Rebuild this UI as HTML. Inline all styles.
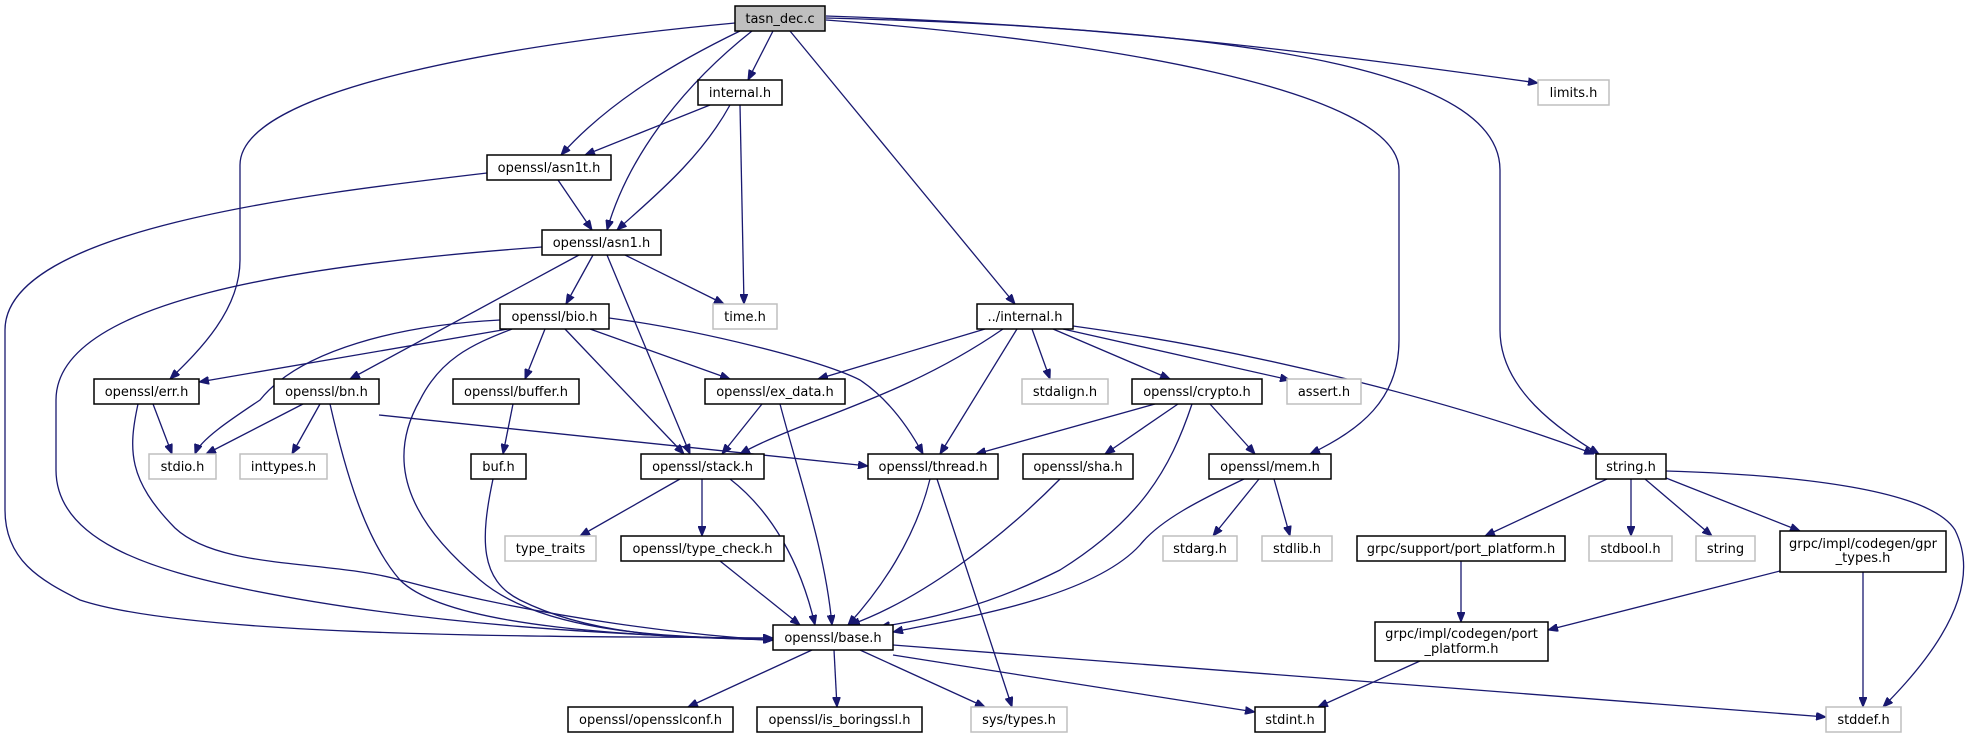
<!DOCTYPE html>
<html><head><meta charset="utf-8"><style>
html,body{margin:0;padding:0;background:#fff;}
svg{display:block;}
text{font-family:"DejaVu Sans","Liberation Sans",sans-serif;font-size:13px;fill:#000;}
.n{fill:#fff;stroke:#000;stroke-width:1.5;}
.g{fill:#fff;stroke:#bfbfbf;stroke-width:1.5;}
.e{fill:none;stroke:#191970;stroke-width:1.3;marker-end:url(#a);}
</style></head><body>
<svg width="1978" height="739" viewBox="0 0 1978 739" xmlns="http://www.w3.org/2000/svg">
<defs><marker id="a" viewBox="0 0 10 8" refX="10" refY="4" markerWidth="10" markerHeight="8" markerUnits="userSpaceOnUse" orient="auto"><path d="M0,0 L10,4 L0,8 z" fill="#191970" stroke="#191970"/></marker></defs>
<g>
<!-- tasn edges -->
<path class="e" d="M735,23 C500,45 240,90 240,165 L240,260 C240,310 200,350 170,379"/>
<path class="e" d="M740,31 C680,60 610,100 561,155"/>
<path class="e" d="M752,31 C690,80 630,150 607,230"/>
<path class="e" d="M773,31 L748,80"/>
<path class="e" d="M790,31 L1015,304"/>
<path class="e" d="M826,20 C1100,40 1399,90 1399,170 L1399,340 C1399,400 1360,430 1310,454"/>
<path class="e" d="M826,18 C1300,30 1500,80 1500,170 L1500,330 C1500,390 1560,430 1599,454"/>
<path class="e" d="M826,16 C1100,25 1300,50 1538,83"/>
<!-- internal.h -->
<path class="e" d="M710,105 L585,155"/>
<path class="e" d="M730,105 C700,160 650,200 617,230"/>
<path class="e" d="M740,105 L744,304"/>
<!-- asn1t -->
<path class="e" d="M558,180 L592,230"/>
<path class="e" d="M487,173 C300,195 5,230 5,330 L5,510 C5,560 40,580 80,600 C200,640 600,636 773,638"/>
<!-- asn1 -->
<path class="e" d="M542,247 C300,265 56,300 56,400 L56,470 C56,540 150,570 250,590 C450,630 650,635 773,640"/>
<path class="e" d="M593,255 L566,304"/>
<path class="e" d="M579,255 L350,379"/>
<path class="e" d="M607,255 L690,454"/>
<path class="e" d="M625,255 L724,304"/>
<!-- bio -->
<path class="e" d="M508,329 L199,382"/>
<path class="e" d="M500,320 C400,325 300,350 260,400 C230,420 200,440 195,454"/>
<path class="e" d="M512,329 C470,345 440,360 420,400 C380,470 420,530 480,580 C550,640 700,636 773,640"/>
<path class="e" d="M545,329 L525,379"/>
<path class="e" d="M565,329 L684,454"/>
<path class="e" d="M590,329 L730,379"/>
<path class="e" d="M609,318 C700,330 820,360 860,380 C890,400 910,430 923,454"/>
<!-- err -->
<path class="e" d="M153,404 L172,454"/>
<path class="e" d="M138,404 C128,450 128,480 175,528 C220,570 330,560 400,580 C550,620 700,636 773,640"/>
<!-- bn -->
<path class="e" d="M303,404 L206,454"/>
<path class="e" d="M320,404 L292,454"/>
<path class="e" d="M330,404 C345,470 365,540 400,580 C450,630 650,636 773,640"/>
<path class="e" d="M379,415 L868,466"/>
<!-- buffer, buf -->
<path class="e" d="M513,404 L503,454"/>
<path class="e" d="M493,479 C480,540 480,580 520,600 C600,640 700,637 773,640"/>
<!-- ex_data -->
<path class="e" d="M762,404 L722,454"/>
<path class="e" d="M780,404 C800,480 825,550 832,625"/>
<!-- ../internal -->
<path class="e" d="M985,329 L818,379"/>
<path class="e" d="M1003,329 C900,400 800,420 740,454"/>
<path class="e" d="M1017,329 L940,454"/>
<path class="e" d="M1032,329 L1050,379"/>
<path class="e" d="M1053,329 L1170,379"/>
<path class="e" d="M1063,329 L1290,380"/>
<path class="e" d="M1073,326 C1250,350 1450,400 1594,454"/>
<!-- crypto -->
<path class="e" d="M1155,404 L976,454"/>
<path class="e" d="M1178,404 L1105,454"/>
<path class="e" d="M1210,404 L1255,454"/>
<path class="e" d="M1192,404 C1170,470 1140,520 1060,570 C980,610 920,620 880,627"/>
<!-- thread -->
<path class="e" d="M930,479 C915,540 880,590 848,625"/>
<path class="e" d="M937,479 L1012,707"/>
<!-- sha -->
<path class="e" d="M1060,479 C1000,540 920,600 850,625"/>
<!-- mem -->
<path class="e" d="M1244,479 C1200,500 1160,520 1140,545 C1090,600 950,620 893,632"/>
<path class="e" d="M1259,479 L1213,536"/>
<path class="e" d="M1274,479 L1290,536"/>
<!-- stack -->
<path class="e" d="M680,479 L580,536"/>
<path class="e" d="M702,479 L702,536"/>
<path class="e" d="M730,479 C770,510 800,560 815,625"/>
<path class="e" d="M720,561 L800,625"/>
<!-- string.h -->
<path class="e" d="M1607,479 L1485,536"/>
<path class="e" d="M1631,479 L1631,536"/>
<path class="e" d="M1645,479 L1712,536"/>
<path class="e" d="M1666,478 L1800,531"/>
<path class="e" d="M1666,471 C1800,475 1930,490 1955,530 C1985,590 1930,660 1883,707"/>
<!-- grpc -->
<path class="e" d="M1461,561 L1461,622"/>
<path class="e" d="M1780,571 L1548,630"/>
<path class="e" d="M1863,572 L1863,707"/>
<path class="e" d="M1420,661 L1318,707"/>
<!-- base -->
<path class="e" d="M812,650 L688,707"/>
<path class="e" d="M834,650 L837,707"/>
<path class="e" d="M860,650 L985,707"/>
<path class="e" d="M893,655 L1255,712"/>
<path class="e" d="M893,645 L1826,717"/>
</g>
<g>
<rect x="735" y="6" width="90" height="25" fill="#bfbfbf" stroke="#000" stroke-width="1.5"/><text x="780" y="23" text-anchor="middle">tasn_dec.c</text>
<rect class="n" x="698" y="80" width="84" height="25"/><text x="740" y="97" text-anchor="middle">internal.h</text>
<rect class="g" x="1538" y="80" width="71" height="25"/><text x="1573.5" y="97" text-anchor="middle">limits.h</text>
<rect class="n" x="487" y="155" width="124" height="25"/><text x="549" y="172" text-anchor="middle">openssl/asn1t.h</text>
<rect class="n" x="542" y="230" width="119" height="25"/><text x="601.5" y="247" text-anchor="middle">openssl/asn1.h</text>
<rect class="n" x="500" y="304" width="109" height="25"/><text x="554.5" y="321" text-anchor="middle">openssl/bio.h</text>
<rect class="g" x="713" y="304" width="64" height="25"/><text x="745" y="321" text-anchor="middle">time.h</text>
<rect class="n" x="977" y="304" width="96" height="25"/><text x="1025" y="321" text-anchor="middle">../internal.h</text>
<rect class="n" x="94" y="379" width="105" height="25"/><text x="146.5" y="396" text-anchor="middle">openssl/err.h</text>
<rect class="n" x="274" y="379" width="105" height="25"/><text x="326.5" y="396" text-anchor="middle">openssl/bn.h</text>
<rect class="n" x="453" y="379" width="126" height="25"/><text x="516" y="396" text-anchor="middle">openssl/buffer.h</text>
<rect class="n" x="705" y="379" width="140" height="25"/><text x="775" y="396" text-anchor="middle">openssl/ex_data.h</text>
<rect class="g" x="1022" y="379" width="86" height="25"/><text x="1065" y="396" text-anchor="middle">stdalign.h</text>
<rect class="n" x="1132" y="379" width="130" height="25"/><text x="1197" y="396" text-anchor="middle">openssl/crypto.h</text>
<rect class="g" x="1287" y="379" width="74" height="25"/><text x="1324" y="396" text-anchor="middle">assert.h</text>
<rect class="g" x="149" y="454" width="67" height="25"/><text x="182.5" y="471" text-anchor="middle">stdio.h</text>
<rect class="g" x="240" y="454" width="87" height="25"/><text x="283.5" y="471" text-anchor="middle">inttypes.h</text>
<rect class="n" x="471" y="454" width="55" height="25"/><text x="498.5" y="471" text-anchor="middle">buf.h</text>
<rect class="n" x="641" y="454" width="123" height="25"/><text x="702.5" y="471" text-anchor="middle">openssl/stack.h</text>
<rect class="n" x="868" y="454" width="130" height="25"/><text x="933" y="471" text-anchor="middle">openssl/thread.h</text>
<rect class="n" x="1023" y="454" width="110" height="25"/><text x="1078" y="471" text-anchor="middle">openssl/sha.h</text>
<rect class="n" x="1209" y="454" width="122" height="25"/><text x="1270" y="471" text-anchor="middle">openssl/mem.h</text>
<rect class="n" x="1596" y="454" width="70" height="25"/><text x="1631" y="471" text-anchor="middle">string.h</text>
<rect class="g" x="505" y="536" width="91" height="25"/><text x="550.5" y="553" text-anchor="middle">type_traits</text>
<rect class="n" x="621" y="536" width="163" height="25"/><text x="702.5" y="553" text-anchor="middle">openssl/type_check.h</text>
<rect class="g" x="1163" y="536" width="74" height="25"/><text x="1200" y="553" text-anchor="middle">stdarg.h</text>
<rect class="g" x="1262" y="536" width="70" height="25"/><text x="1297" y="553" text-anchor="middle">stdlib.h</text>
<rect class="n" x="1357" y="536" width="208" height="25"/><text x="1461" y="553" text-anchor="middle">grpc/support/port_platform.h</text>
<rect class="g" x="1589" y="536" width="83" height="25"/><text x="1630.5" y="553" text-anchor="middle">stdbool.h</text>
<rect class="g" x="1696" y="536" width="59" height="25"/><text x="1725.5" y="553" text-anchor="middle">string</text>
<rect class="n" x="1780" y="531" width="166" height="41"/><text x="1863" y="548" text-anchor="middle">grpc/impl/codegen/gpr</text><text x="1863" y="562" text-anchor="middle">_types.h</text>
<rect class="n" x="773" y="625" width="120" height="25"/><text x="833" y="642" text-anchor="middle">openssl/base.h</text>
<rect class="n" x="1375" y="622" width="173" height="39"/><text x="1461.5" y="638" text-anchor="middle">grpc/impl/codegen/port</text><text x="1461.5" y="653" text-anchor="middle">_platform.h</text>
<rect class="n" x="568" y="707" width="165" height="25"/><text x="650.5" y="724" text-anchor="middle">openssl/opensslconf.h</text>
<rect class="n" x="757" y="707" width="165" height="25"/><text x="839.5" y="724" text-anchor="middle">openssl/is_boringssl.h</text>
<rect class="g" x="971" y="707" width="96" height="25"/><text x="1019" y="724" text-anchor="middle">sys/types.h</text>
<rect class="n" x="1255" y="707" width="70" height="25"/><text x="1290" y="724" text-anchor="middle">stdint.h</text>
<rect class="g" x="1826" y="707" width="75" height="25"/><text x="1863.5" y="724" text-anchor="middle">stddef.h</text>
</g>
</svg>
</body></html>
